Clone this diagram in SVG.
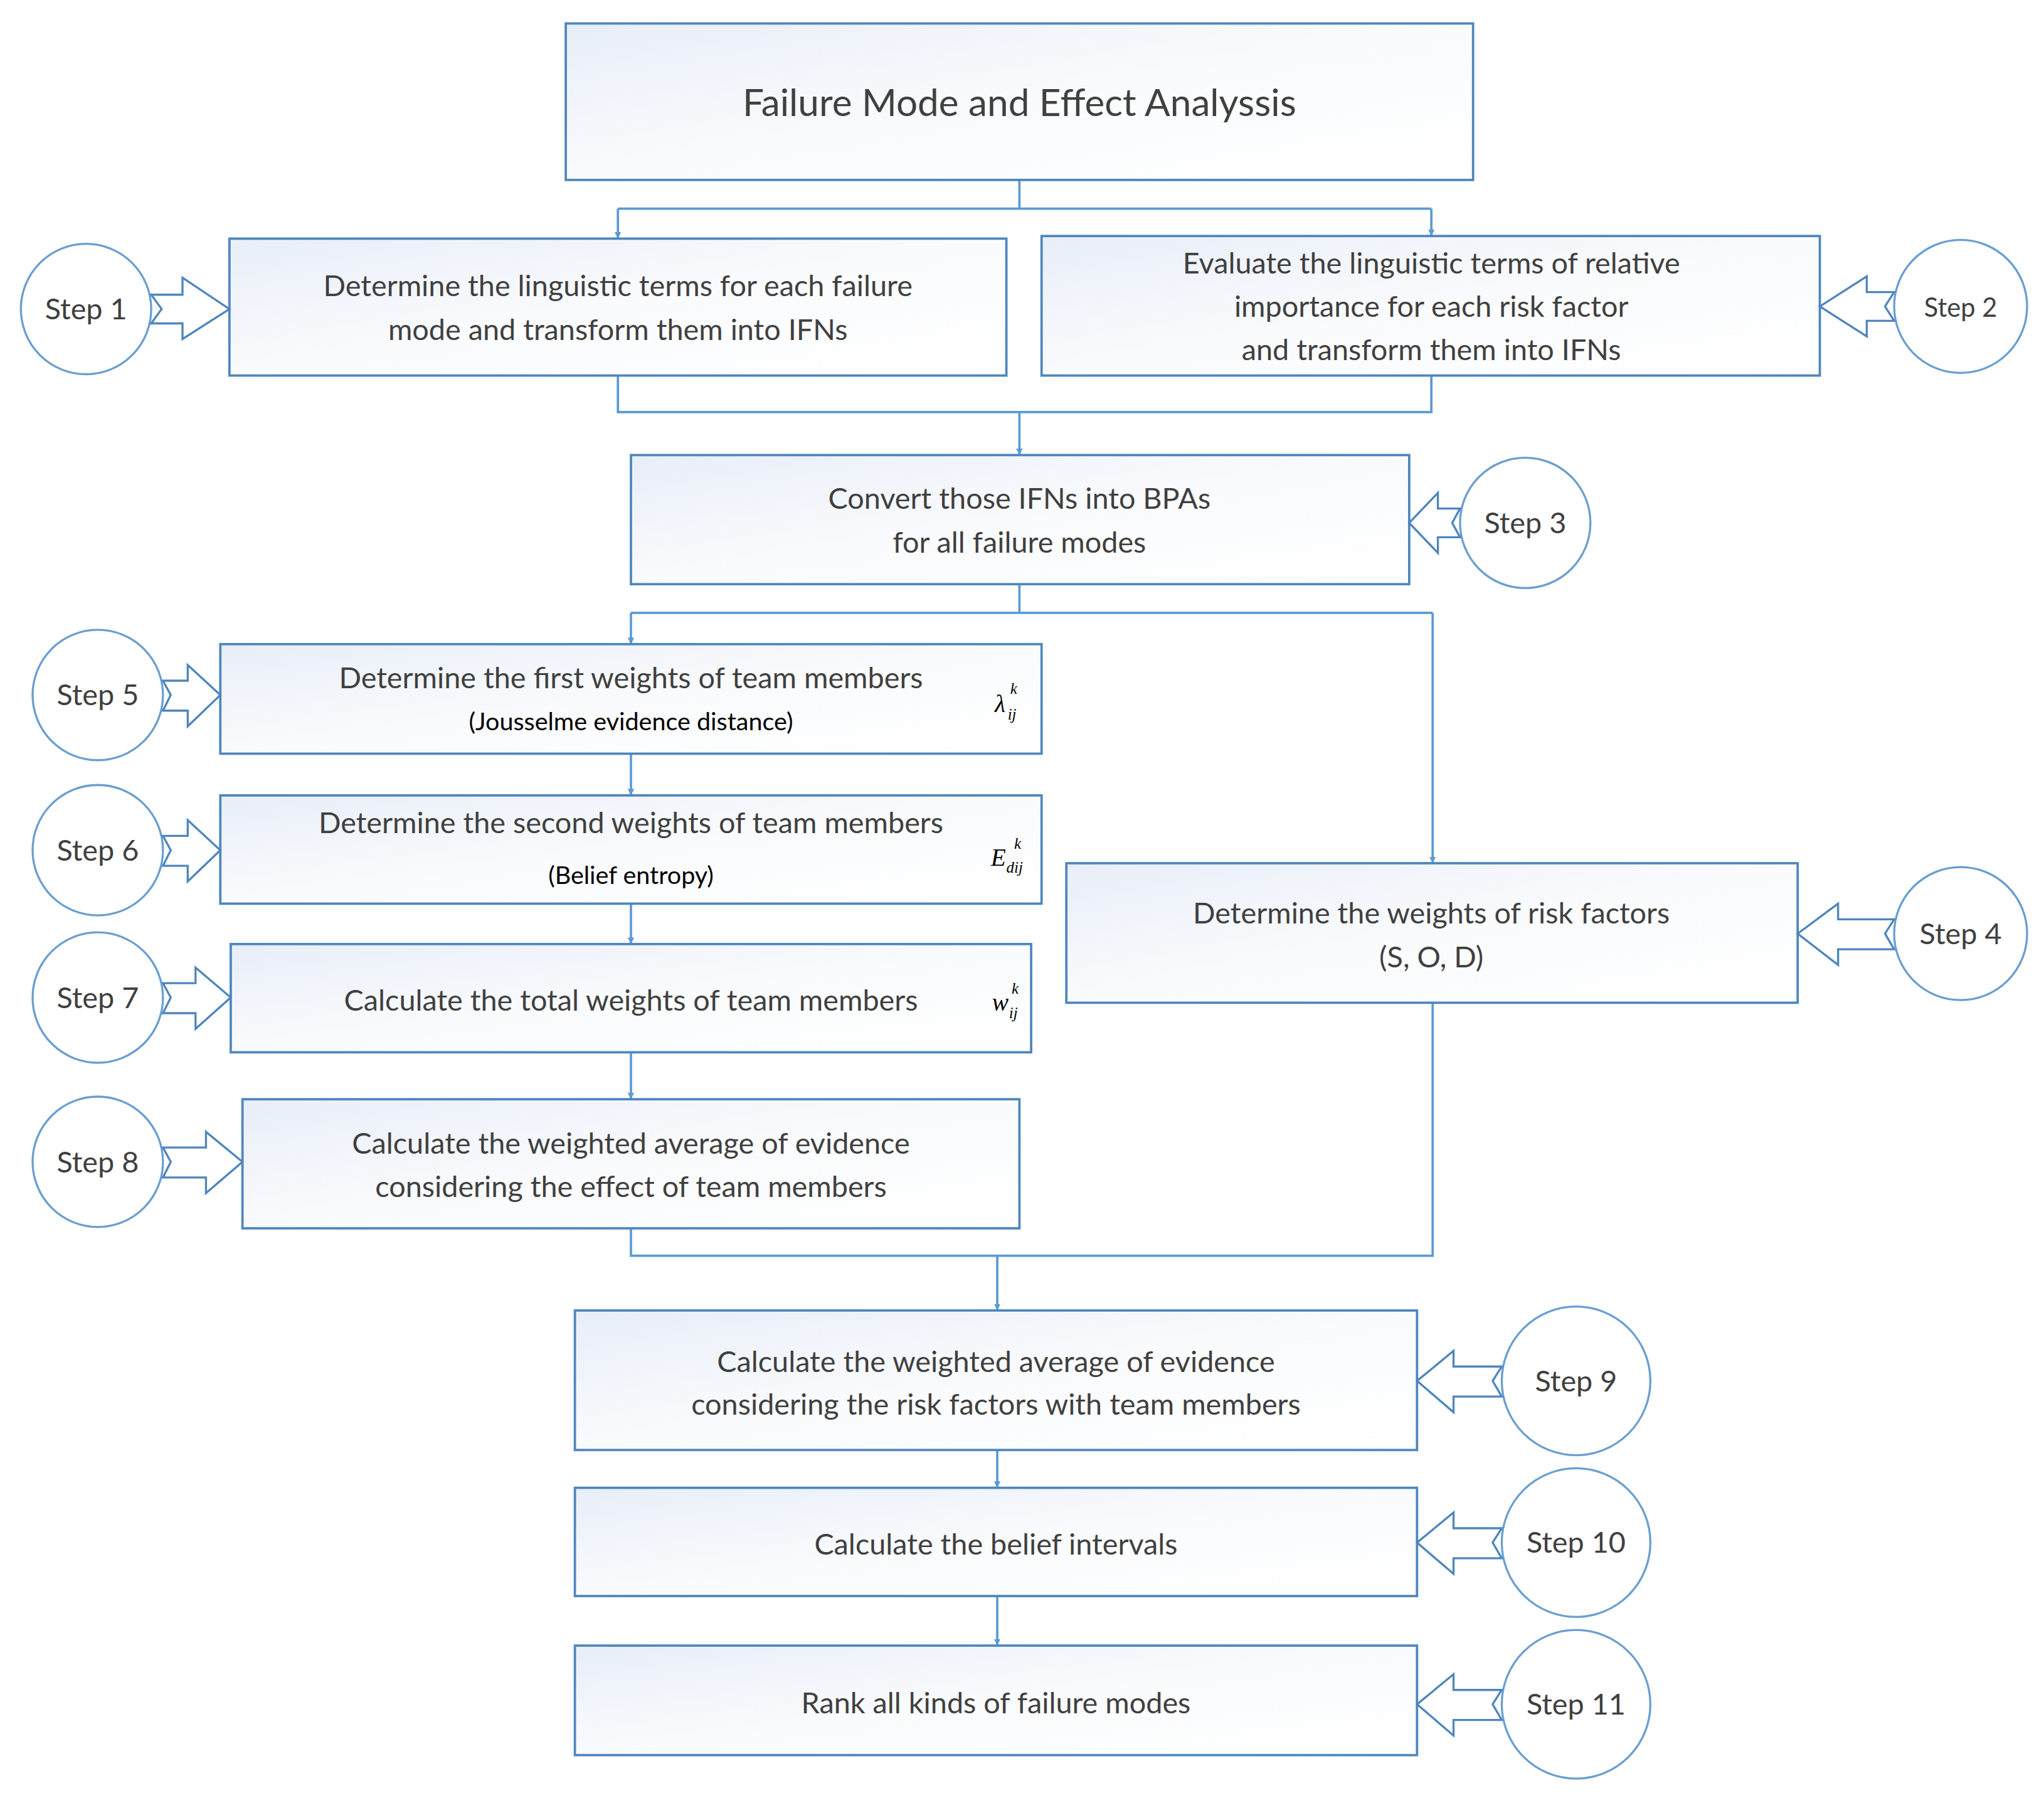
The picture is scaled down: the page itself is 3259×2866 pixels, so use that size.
<svg xmlns="http://www.w3.org/2000/svg" width="3259" height="2866" viewBox="0 0 3259 2866">
<defs>
<linearGradient id="g" x1="0" y1="0" x2="1" y2="1"><stop offset="0" stop-color="#e8eef8"/><stop offset="0.5" stop-color="#fafbfd"/><stop offset="1" stop-color="#ffffff"/></linearGradient>
<marker id="ar" viewBox="0 0 10 10" refX="10" refY="5" markerWidth="5" markerHeight="7" orient="auto" markerUnits="userSpaceOnUse"><path d="M0,0 L10,5 L0,10 z" fill="#5b9bd5"/></marker>
<style>
.b{fill:url(#g);stroke:#4f86bd;stroke-width:1.8}
.c{fill:#fff;stroke:#6a9fd0;stroke-width:1.6}
.ba{fill:#fff;stroke:#4f86bd;stroke-width:1.6}
.l{fill:none;stroke:#5b9bd5;stroke-width:1.8}
text{font-family:Lato,"Liberation Sans",sans-serif;fill:#404040;text-anchor:middle;font-size:22.5px}
.t{font-size:29px}
.s{font-size:19px;fill:#000}
.m{font-family:"Liberation Serif",serif;font-style:italic;font-size:19px;fill:#000;text-anchor:start}
.ms{font-family:"Liberation Serif",serif;font-style:italic;font-size:12px;fill:#000;text-anchor:start}
</style>
</defs>
<g transform="scale(2.0785)">
<g id="connectors">
<path class="l" d="M782,138 V160 M474,160 H1098"/>
<path class="l" d="M474,160 V183" marker-end="url(#ar)"/>
<path class="l" d="M1098,160 V181" marker-end="url(#ar)"/>
<path class="l" d="M474,288 V316 H1098 V288"/>
<path class="l" d="M782,316 V349" marker-end="url(#ar)"/>
<path class="l" d="M782,448 V470 M484,470 H1099"/>
<path class="l" d="M484,470 V494" marker-end="url(#ar)"/>
<path class="l" d="M1099,470 V662" marker-end="url(#ar)"/>
<path class="l" d="M484,578 V610" marker-end="url(#ar)"/>
<path class="l" d="M484,693 V724" marker-end="url(#ar)"/>
<path class="l" d="M484,807 V843" marker-end="url(#ar)"/>
<path class="l" d="M484,942 V963 H1099 V769"/>
<path class="l" d="M765,963 V1005" marker-end="url(#ar)"/>
<path class="l" d="M765,1112 V1141" marker-end="url(#ar)"/>
<path class="l" d="M765,1224 V1262" marker-end="url(#ar)"/>
</g>
<g id="title"><rect class="b" x="434" y="18" width="696" height="120"/><text class="t" x="782" y="89">Failure Mode and Effect Analyssis</text></g>
<g id="box1"><rect class="b" x="176" y="183" width="596" height="105"/><text x="474" y="227">Determine the linguistic terms for each failure</text><text x="474" y="261">mode and transform them into IFNs</text></g>
<g id="box2"><rect class="b" x="799" y="181" width="597" height="107"/><text x="1098" y="210">Evaluate the linguistic terms of relative</text><text x="1098" y="243">importance for each risk factor</text><text x="1098" y="276">and transform them into IFNs</text></g>
<g id="box3"><rect class="b" x="484" y="349" width="597" height="99"/><text x="782" y="390">Convert those IFNs into BPAs</text><text x="782" y="424">for all failure modes</text></g>
<g id="box5"><rect class="b" x="169" y="494" width="630" height="84"/><text x="484" y="528">Determine the first weights of team members</text><text class="s" x="484" y="560">(Jousselme evidence distance)</text><text class="m" x="763" y="546">λ</text><text class="ms" x="775" y="532">k</text><text class="ms" x="773" y="552">ij</text></g>
<g id="box6"><rect class="b" x="169" y="610" width="630" height="83"/><text x="484" y="639">Determine the second weights of team members</text><text class="s" x="484" y="678">(Belief entropy)</text><text class="m" x="760" y="664">E</text><text class="ms" x="778" y="651">k</text><text class="ms" x="772" y="669">dij</text></g>
<g id="box7"><rect class="b" x="177" y="724" width="614" height="83"/><text x="484" y="775">Calculate the total weights of team members</text><text class="m" x="761" y="775">w</text><text class="ms" x="776" y="762">k</text><text class="ms" x="774" y="781">ij</text></g>
<g id="box8"><rect class="b" x="186" y="843" width="596" height="99"/><text x="484" y="885">Calculate the weighted average of evidence</text><text x="484" y="918">considering the effect of team members</text></g>
<g id="box4"><rect class="b" x="818" y="662" width="561" height="107"/><text x="1098" y="708">Determine the weights of risk factors</text><text x="1098" y="742">(S, O, D)</text></g>
<g id="box9"><rect class="b" x="441" y="1005" width="646" height="107"/><text x="764" y="1052">Calculate the weighted average of evidence</text><text x="764" y="1085">considering the risk factors with team members</text></g>
<g id="box10"><rect class="b" x="441" y="1141" width="646" height="83"/><text x="764" y="1192">Calculate the belief intervals</text></g>
<g id="box11"><rect class="b" x="441" y="1262" width="646" height="84"/><text x="764" y="1314">Rank all kinds of failure modes</text></g>
<g id="step1"><circle class="c" cx="66" cy="237" r="50"/><text x="66" y="245">Step 1</text><polygon class="ba" points="116,226 140,226 140,213 176,237 140,260 140,248 116,248 124,237"/></g>
<g id="step2"><ellipse class="c" cx="1504" cy="235" rx="51" ry="51"/><text x="1504" y="243" style="font-size:20px">Step 2</text><polygon class="ba" points="1453,224 1432,224 1432,212 1396,235 1432,258 1432,246 1453,246 1446,235"/></g>
<g id="step3"><circle class="c" cx="1170" cy="401" r="50"/><text x="1170" y="409">Step 3</text><polygon class="ba" points="1120,390 1103,390 1103,378 1081,401 1103,424 1103,412 1120,412 1114,401"/></g>
<g id="step5"><circle class="c" cx="75" cy="533" r="50"/><text x="75" y="541">Step 5</text><polygon class="ba" points="125,522 144,522 144,510 169,533 144,557 144,545 125,545 131,533"/></g>
<g id="step6"><circle class="c" cx="75" cy="652" r="50"/><text x="75" y="660">Step 6</text><polygon class="ba" points="125,641 144,641 144,629 169,652 144,676 144,664 125,664 131,652"/></g>
<g id="step7"><circle class="c" cx="75" cy="765" r="50"/><text x="75" y="773">Step 7</text><polygon class="ba" points="125,754 150,754 150,742 177,765 150,789 150,777 125,777 131,765"/></g>
<g id="step8"><circle class="c" cx="75" cy="891" r="50"/><text x="75" y="899">Step 8</text><polygon class="ba" points="125,880 158,880 158,868 186,891 158,915 158,903 125,903 131,891"/></g>
<g id="step4"><circle class="c" cx="1504" cy="716" r="51"/><text x="1504" y="724">Step 4</text><polygon class="ba" points="1453,705 1410,705 1410,693 1379,716 1410,740 1410,728 1453,728 1446,716"/></g>
<g id="step9"><circle class="c" cx="1209" cy="1059" r="57"/><text x="1209" y="1067">Step 9</text><polygon class="ba" points="1152,1048 1115,1048 1115,1036 1087,1059 1115,1083 1115,1071 1152,1071 1145,1059"/></g>
<g id="step10"><circle class="c" cx="1209" cy="1183" r="57"/><text x="1209" y="1191">Step 10</text><polygon class="ba" points="1152,1172 1115,1172 1115,1160 1087,1183 1115,1207 1115,1195 1152,1195 1145,1183"/></g>
<g id="step11"><circle class="c" cx="1209" cy="1307" r="57"/><text x="1209" y="1315">Step 11</text><polygon class="ba" points="1152,1296 1115,1296 1115,1284 1087,1307 1115,1331 1115,1319 1152,1319 1145,1307"/></g>
</g>
</svg>
